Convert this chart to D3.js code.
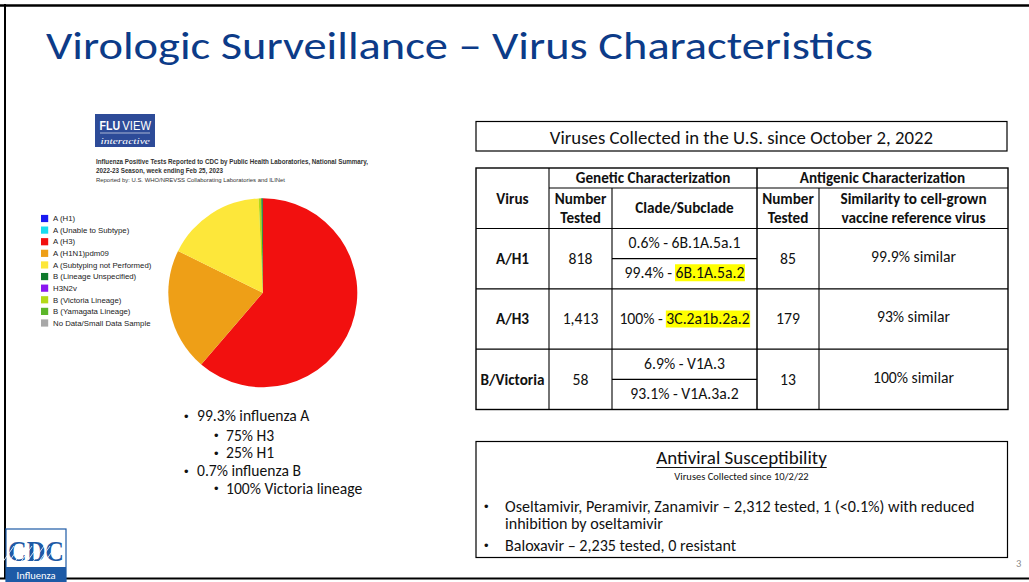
<!DOCTYPE html>
<html><head><meta charset="utf-8">
<script src="https://cdn.jsdelivr.net/npm/d3@7"></script>
<style>
html,body{margin:0;padding:0;background:#fff;}
svg{display:block;}
</style></head>
<body>
<script>
// ---------- DATA ----------
const titleText = "Virologic Surveillance – Virus Characteristics";
const fluviewCaption = [
  "Influenza Positive Tests Reported to CDC by Public Health Laboratories, National Summary,",
  "2022-23 Season, week ending Feb 25, 2023",
  "Reported by: U.S. WHO/NREVSS Collaborating Laboratories and ILINet"
];
const legendLabels = ["A (H1)", "A (Unable to Subtype)", "A (H3)", "A (H1N1)pdm09", "A (Subtyping not Performed)",
  "B (Lineage Unspecified)", "H3N2v", "B (Victoria Lineage)", "B (Yamagata Lineage)", "No Data/Small Data Sample"];
const legendColors = ["#1a1af2", "#18dcef", "#f2100f", "#ee9f17", "#fde73a", "#0f7a2c", "#8a16f0", "#b3d918", "#5cb62a", "#a8a8a8"];
// pie slices in drawing order (clockwise from 12 o'clock), percent of positives
const pieSlices = ["A (H3)", "A (H1N1)pdm09", "A (Subtyping not Performed)", "B (Victoria Lineage)", "B (Lineage Unspecified)"];
const pieValues = [61.3, 21.0, 17.0, 0.45, 0.25];
const pieBullets = [
  {level: 0, text: "99.3% influenza A"},
  {level: 1, text: "75% H3"},
  {level: 1, text: "25% H1"},
  {level: 0, text: "0.7% influenza B"},
  {level: 1, text: "100% Victoria lineage"}
];
const tableCaption = "Viruses Collected in the U.S. since October 2, 2022";
const viruses = ["A/H1", "A/H3", "B/Victoria"];
const geneticTested = ["818", "1,413", "58"];
const cladeText = [["0.6% - ", "99.4% - "], ["100% - "], ["6.9% - ", "93.1% - "]];
const cladeNames = [["6B.1A.5a.1", "6B.1A.5a.2"], ["3C.2a1b.2a.2"], ["V1A.3", "V1A.3a.2"]];
const cladeHighlighted = [[false, true], [true], [false, false]];
const antigenicTested = ["85", "179", "13"];
const similarity = ["99.9% similar", "93% similar", "100% similar"];
const antiviralTitle = "Antiviral Susceptibility";
const antiviralSub = "Viruses Collected since 10/2/22";
const antiviralBullets = [
  ["Oseltamivir, Peramivir, Zanamivir – 2,312 tested, 1 (<0.1%) with reduced", "inhibition by oseltamivir"],
  ["Baloxavir – 2,235 tested, 0 resistant"]
];
const pageNumber = "3";

// ---------- LAYOUT ----------
const W = 1029, H = 582;
const BODY = "Carlito, Calibri, Lato, sans-serif";
const ARIAL = "'Liberation Sans', Arial, sans-serif";
const svg = d3.select("body").append("svg").attr("width", W).attr("height", H);

// slide frame
svg.append("rect").attr("width", W).attr("height", H).attr("fill", "#fff");
svg.append("line").attr("x1", 0).attr("x2", W).attr("y1", 5.5).attr("y2", 5.5).attr("stroke", "#000").attr("stroke-width", 2.5);
svg.append("line").attr("x1", 5).attr("x2", 5).attr("y1", 4).attr("y2", 579).attr("stroke", "#000").attr("stroke-width", 2);
svg.append("line").attr("x1", 0).attr("x2", W).attr("y1", 578.5).attr("y2", 578.5).attr("stroke", "#000").attr("stroke-width", 2);

// title
svg.append("text").attr("x", 46).attr("y", 59).attr("font-family", BODY).attr("font-size", 39)
  .attr("fill", "#0c3b88").attr("textLength", 827).attr("lengthAdjust", "spacingAndGlyphs").text(titleText);

// FluView logo
const logo = svg.append("g");
logo.append("rect").attr("x", 95).attr("y", 114).attr("width", 60).attr("height", 33).attr("fill", "#2d4b98");
logo.append("text").attr("x", 99.5).attr("y", 129.5).attr("font-family", ARIAL).attr("font-size", 13).attr("font-weight", "bold")
  .attr("fill", "#fff").attr("textLength", 20.5).attr("lengthAdjust", "spacingAndGlyphs").text("FLU");
logo.append("text").attr("x", 122.3).attr("y", 129.5).attr("font-family", ARIAL).attr("font-size", 13)
  .attr("fill", "#fff").attr("textLength", 28.7).attr("lengthAdjust", "spacingAndGlyphs").text("VIEW");
logo.append("line").attr("x1", 100).attr("x2", 150).attr("y1", 133).attr("y2", 133).attr("stroke", "#fff").attr("stroke-width", 0.6);
logo.append("text").attr("x", 100.5).attr("y", 144).attr("font-family", "'Liberation Serif', serif").attr("font-style", "italic")
  .attr("font-size", 9).attr("fill", "#fff").attr("textLength", 49.5).attr("lengthAdjust", "spacingAndGlyphs").text("interactive");

const capW = [272, 127, 189];
const capY = [164, 173, 182];
const capFS = [6.6, 6.6, 6];
fluviewCaption.forEach((t, i) => {
  svg.append("text").attr("x", 96).attr("y", capY[i]).attr("font-family", ARIAL).attr("font-size", capFS[i])
    .attr("font-weight", i < 2 ? "bold" : "normal").attr("fill", "#333")
    .attr("textLength", capW[i]).attr("lengthAdjust", "spacingAndGlyphs").text(t);
});

// legend
const color = d3.scaleOrdinal().domain(legendLabels).range(legendColors);
const legY = d3.scalePoint().domain(legendLabels).range([218.5, 323]);
const leg = svg.append("g");
leg.selectAll("rect").data(legendLabels).join("rect")
  .attr("x", 41).attr("y", d => legY(d) - 3.6).attr("width", 7.2).attr("height", 7.2).attr("fill", d => color(d));
leg.selectAll("text").data(legendLabels).join("text")
  .attr("x", 53).attr("y", d => legY(d)).attr("dy", "0.35em").attr("font-family", ARIAL).attr("font-size", 7.8)
  .attr("fill", "#222").text(d => d);

// pie
const pieData = pieSlices.map((k, i) => ({key: k, value: pieValues[i]}));
const pie = d3.pie().sort(null).value(d => d.value);
const arc = d3.arc().innerRadius(0).outerRadius(94.5);
svg.append("g").attr("transform", "translate(262.8,292.8)")
  .selectAll("path").data(pie(pieData)).join("path")
  .attr("d", arc).attr("fill", d => color(d.data.key));

// pie bullets
const bulY = [416, 435.5, 453, 471, 488.5];
pieBullets.forEach((b, i) => {
  const bx = b.level ? 214 : 184, tx = b.level ? 226 : 197;
  svg.append("text").attr("x", bx).attr("y", bulY[i]).attr("dy", "0.35em").attr("font-family", ARIAL).attr("font-size", 13).attr("fill", "#111").text("•");
  svg.append("text").attr("x", tx).attr("y", bulY[i]).attr("dy", "0.35em").attr("font-family", BODY).attr("font-size", 15.6).attr("fill", "#111").text(b.text);
});

// table caption box
svg.append("rect").attr("x", 476).attr("y", 121.5).attr("width", 531).attr("height", 29.5).attr("fill", "none").attr("stroke", "#000").attr("stroke-width", 1.2);
svg.append("text").attr("x", 741.5).attr("y", 137).attr("dy", "0.35em").attr("text-anchor", "middle").attr("font-family", BODY)
  .attr("font-size", 18.8).attr("fill", "#111").text(tableCaption);

// table
const cols = [476, 549, 612, 757, 819, 1008];
const tTop = 168, hMid = 188, hBot = 228.5;
const rowY = d3.scaleBand().domain(viruses).range([hBot, 409.5]);
const tbl = svg.append("g").attr("stroke", "#000").attr("stroke-width", 1.1);
const L = (x1, y1, x2, y2, w) => tbl.append("line").attr("x1", x1).attr("y1", y1).attr("x2", x2).attr("y2", y2).attr("stroke-width", w || 1.1);
tbl.append("rect").attr("x", cols[0]).attr("y", tTop).attr("width", cols[5] - cols[0]).attr("height", 409.5 - tTop).attr("fill", "none").attr("stroke-width", 1.4);
L(cols[1], tTop, cols[1], 409.5);
L(cols[3], tTop, cols[3], 409.5, 1.5);
L(cols[2], hMid, cols[2], 409.5);
L(cols[4], hMid, cols[4], 409.5);
L(cols[1], hMid, cols[5], hMid);
L(cols[0], hBot, cols[5], hBot);
viruses.forEach((v, i) => {
  const y0 = rowY(v);
  if (i > 0) L(cols[0], y0, cols[5], y0);
  if (cladeText[i].length === 2) L(cols[2], y0 + rowY.bandwidth() / 2, cols[3], y0 + rowY.bandwidth() / 2);
});

const T = (x, y, s, opts = {}) => svg.append("text").attr("x", x).attr("y", y).attr("dy", "0.35em")
  .attr("text-anchor", "middle").attr("font-family", BODY).attr("font-size", opts.fs || 15.7)
  .attr("font-weight", opts.bold ? "bold" : "normal").attr("fill", "#111").text(s);
const cx = i => (cols[i] + cols[i + 1]) / 2;
const HB = {bold: true, fs: 15.2};
// header
T((cols[1] + cols[3]) / 2, 178, "Genetic Characterization", HB);
T((cols[3] + cols[5]) / 2, 178, "Antigenic Characterization", HB);
T(cx(0), 198.5, "Virus", HB);
T(cx(1), 198.5, "Number", HB);
T(cx(1), 218, "Tested", HB);
T(cx(2), 208, "Clade/Subclade", HB);
T(cx(3), 198.5, "Number", HB);
T(cx(3), 218, "Tested", HB);
T(cx(4), 198.5, "Similarity to cell-grown", HB);
T(cx(4), 218, "vaccine reference virus", HB);

viruses.forEach((v, i) => {
  const y0 = rowY(v), bw = rowY.bandwidth(), mid = y0 + bw / 2;
  T(cx(0), mid, v, HB);
  T(cx(1), mid, geneticTested[i]);
  T(cx(3), mid, antigenicTested[i]);
  T(cx(4), mid - 2, similarity[i]);
  const n = cladeText[i].length;
  cladeText[i].forEach((pre, j) => {
    const yy = n === 2 ? y0 + bw / 4 + j * bw / 2 - 1 : mid;
    const t = T(cx(2), yy, "");
    t.append("tspan").text(pre);
    t.append("tspan").text(cladeNames[i][j]);
    if (cladeHighlighted[i][j]) {
      const node = t.node();
      const start = pre.length;
      const x0 = node.getStartPositionOfChar(start).x;
      const w = node.getSubStringLength(start, cladeNames[i][j].length);
      svg.insert("rect", "text").attr("x", x0 - 0.5).attr("y", yy - 8.5).attr("width", w + 1).attr("height", 17).attr("fill", "#ffff00");
    }
  });
});

// antiviral box
svg.append("rect").attr("x", 476).attr("y", 441.5).attr("width", 531.5).attr("height", 116).attr("fill", "none").attr("stroke", "#000").attr("stroke-width", 1.2);
const avT = svg.append("text").attr("x", 741.5).attr("y", 464).attr("text-anchor", "middle").attr("font-family", BODY)
  .attr("font-size", 19).attr("fill", "#111").text(antiviralTitle);
const avW = avT.node().getComputedTextLength();
svg.append("line").attr("x1", 741.5 - avW / 2).attr("x2", 741.5 + avW / 2).attr("y1", 467.5).attr("y2", 467.5).attr("stroke", "#111").attr("stroke-width", 1.1);
svg.append("text").attr("x", 741.5).attr("y", 480).attr("text-anchor", "middle").attr("font-family", BODY)
  .attr("font-size", 10.5).attr("fill", "#111").text(antiviralSub);
const avY = [[506, 523], [545]];
antiviralBullets.forEach((lines, i) => {
  svg.append("text").attr("x", 484).attr("y", avY[i][0]).attr("dy", "0.35em").attr("font-family", ARIAL).attr("font-size", 13).attr("fill", "#111").text("•");
  lines.forEach((ln, j) => {
    svg.append("text").attr("x", 505).attr("y", avY[i][j]).attr("dy", "0.35em").attr("font-family", BODY)
      .attr("font-size", 16.1).attr("fill", "#111").text(ln);
  });
});

svg.append("text").attr("x", 1016).attr("y", 563).attr("dy", "0.35em").attr("font-family", BODY).attr("font-size", 10.5).attr("fill", "#8a8a8a").text(pageNumber);

// CDC logo
const cdc = svg.append("g").attr("transform", "translate(6,529)");
cdc.append("rect").attr("x", 0).attr("y", 0).attr("width", 60).attr("height", 53).attr("fill", "#fff").attr("stroke", "#1d5aa6").attr("stroke-width", 1.2);
cdc.append("text").attr("x", 2).attr("y", 32).attr("font-family", "'Liberation Serif', serif").attr("font-weight", "bold")
  .attr("font-size", 29).attr("fill", "#1d5aa6").attr("textLength", 56).attr("lengthAdjust", "spacingAndGlyphs").text("CDC");
const hatch = cdc.append("g").attr("stroke", "#fff").attr("stroke-width", 0.8);
d3.range(8).forEach(k => hatch.append("line").attr("x1", -4 + k * 6).attr("y1", 34).attr("x2", 8 + k * 6).attr("y2", 17));
cdc.append("rect").attr("x", 0).attr("y", 38).attr("width", 60).attr("height", 15).attr("fill", "#1d5aa6");
cdc.append("text").attr("x", 30).attr("y", 46.5).attr("dy", "0.35em").attr("text-anchor", "middle").attr("font-family", BODY)
  .attr("font-size", 10.5).attr("fill", "#fff").text("Influenza");
</script>
</body></html>
